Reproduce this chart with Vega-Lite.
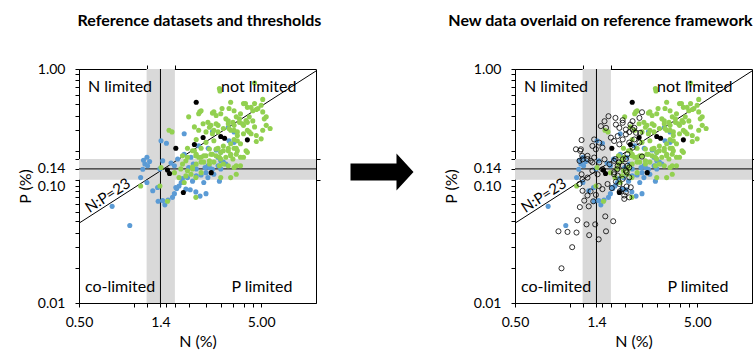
{
"$schema":"https://vega.github.io/schema/vega-lite/v6.json",
"padding":{"left":16,"top":12,"right":0,"bottom":0},
"spacing":0,
"datasets":{
"ref":[
{"N":0.76,"P":0.067,"s":"A"},{"N":0.95,"P":0.046,"s":"A"},{"N":1.09,"P":0.118,"s":"A"},{"N":1.18,"P":0.107,"s":"A"},{"N":1.13,"P":0.166,"s":"A"},{"N":1.18,"P":0.176,"s":"A"},{"N":1.22,"P":0.162,"s":"A"},{"N":1.15,"P":0.154,"s":"A"},{"N":1.19,"P":0.149,"s":"A"},{"N":1.12,"P":0.139,"s":"A"},{"N":1.27,"P":0.091,"s":"A"},{"N":1.36,"P":0.074,"s":"A"},{"N":1.44,"P":0.075,"s":"A"},{"N":1.48,"P":0.069,"s":"A"},{"N":1.54,"P":0.076,"s":"A"},{"N":1.41,"P":0.244,"s":"A"},{"N":1.51,"P":0.232,"s":"A"},{"N":1.44,"P":0.164,"s":"A"},{"N":1.39,"P":0.14,"s":"A"},{"N":1.35,"P":0.097,"s":"A"},{"N":1.6,"P":0.157,"s":"A"},{"N":1.63,"P":0.08,"s":"A"},{"N":1.67,"P":0.086,"s":"A"},{"N":1.72,"P":0.095,"s":"A"},{"N":1.77,"P":0.1,"s":"A"},{"N":1.82,"P":0.107,"s":"A"},{"N":1.85,"P":0.116,"s":"A"},{"N":1.7,"P":0.097,"s":"A"},{"N":1.89,"P":0.28,"s":"A"},{"N":1.93,"P":0.094,"s":"A"},{"N":2.04,"P":0.093,"s":"A"},{"N":2.19,"P":0.089,"s":"A"},{"N":2.31,"P":0.082,"s":"A"},{"N":2.49,"P":0.086,"s":"A"},{"N":2.0,"P":0.144,"s":"A"},{"N":2.12,"P":0.154,"s":"A"},{"N":2.2,"P":0.14,"s":"A"},{"N":2.34,"P":0.124,"s":"A"},{"N":2.46,"P":0.144,"s":"A"},{"N":2.6,"P":0.144,"s":"A"},{"N":2.75,"P":0.126,"s":"A"},{"N":2.95,"P":0.11,"s":"A"},{"N":3.0,"P":0.14,"s":"A"},{"N":3.2,"P":0.154,"s":"A"},{"N":2.27,"P":0.221,"s":"A"},{"N":2.56,"P":0.21,"s":"A"},{"N":2.83,"P":0.203,"s":"A"},{"N":2.9,"P":0.176,"s":"A"},{"N":3.3,"P":0.318,"s":"A"},{"N":3.55,"P":0.29,"s":"A"},{"N":3.33,"P":0.244,"s":"A"},{"N":2.06,"P":0.176,"s":"A"},{"N":1.89,"P":0.187,"s":"A"},{"N":1.74,"P":0.17,"s":"A"},{"N":1.67,"P":0.149,"s":"A"},{"N":1.97,"P":0.118,"s":"A"},{"N":2.1,"P":0.11,"s":"A"},{"N":2.42,"P":0.107,"s":"A"},{"N":2.55,"P":0.149,"s":"A"},{"N":2.7,"P":0.139,"s":"A"},{"N":2.9,"P":0.149,"s":"A"},{"N":3.0,"P":0.164,"s":"A"},{"N":3.1,"P":0.16,"s":"A"},{"N":2.7,"P":0.29,"s":"A"},{"N":3.0,"P":0.194,"s":"A"},{"N":3.55,"P":0.236,"s":"A"},{"N":2.49,"P":0.13,"s":"A"},{"N":2.2,"P":0.122,"s":"A"},{"N":2.55,"P":0.118,"s":"A"},
{"N":2.95,"P":0.68,"s":"B"},{"N":2.97,"P":0.65,"s":"B"},{"N":4.6,"P":0.76,"s":"B"},{"N":5.1,"P":0.55,"s":"B"},{"N":4.1,"P":0.506,"s":"B"},{"N":2.3,"P":0.43,"s":"B"},{"N":2.0,"P":0.39,"s":"B"},{"N":2.27,"P":0.415,"s":"B"},{"N":2.34,"P":0.44,"s":"B"},{"N":2.75,"P":0.43,"s":"B"},{"N":2.83,"P":0.4,"s":"B"},{"N":2.7,"P":0.42,"s":"B"},{"N":3.05,"P":0.46,"s":"B"},{"N":3.4,"P":0.52,"s":"B"},{"N":3.33,"P":0.46,"s":"B"},{"N":3.55,"P":0.44,"s":"B"},{"N":3.85,"P":0.415,"s":"B"},{"N":4.0,"P":0.506,"s":"B"},{"N":4.2,"P":0.47,"s":"B"},{"N":4.5,"P":0.44,"s":"B"},{"N":4.6,"P":0.506,"s":"B"},{"N":4.8,"P":0.46,"s":"B"},{"N":5.0,"P":0.49,"s":"B"},{"N":4.4,"P":0.47,"s":"B"},{"N":4.7,"P":0.45,"s":"B"},{"N":5.1,"P":0.43,"s":"B"},{"N":5.2,"P":0.375,"s":"B"},{"N":5.33,"P":0.39,"s":"B"},{"N":5.33,"P":0.33,"s":"B"},{"N":5.6,"P":0.31,"s":"B"},{"N":3.65,"P":0.39,"s":"B"},{"N":3.8,"P":0.35,"s":"B"},{"N":3.95,"P":0.34,"s":"B"},{"N":4.13,"P":0.363,"s":"B"},{"N":4.2,"P":0.3,"s":"B"},{"N":4.4,"P":0.28,"s":"B"},{"N":4.7,"P":0.27,"s":"B"},{"N":5.0,"P":0.253,"s":"B"},{"N":5.1,"P":0.3,"s":"B"},{"N":4.3,"P":0.39,"s":"B"},{"N":4.5,"P":0.36,"s":"B"},{"N":4.6,"P":0.32,"s":"B"},{"N":4.2,"P":0.35,"s":"B"},{"N":3.8,"P":0.375,"s":"B"},{"N":4.0,"P":0.33,"s":"B"},{"N":3.55,"P":0.33,"s":"B"},{"N":3.4,"P":0.3,"s":"B"},{"N":3.7,"P":0.29,"s":"B"},{"N":3.0,"P":0.415,"s":"B"},{"N":3.2,"P":0.375,"s":"B"},{"N":3.3,"P":0.34,"s":"B"},{"N":3.33,"P":0.31,"s":"B"},{"N":3.5,"P":0.35,"s":"B"},{"N":3.55,"P":0.3,"s":"B"},{"N":3.7,"P":0.27,"s":"B"},{"N":2.55,"P":0.35,"s":"B"},{"N":2.6,"P":0.318,"s":"B"},{"N":2.75,"P":0.3,"s":"B"},{"N":2.9,"P":0.33,"s":"B"},{"N":2.65,"P":0.33,"s":"B"},{"N":2.83,"P":0.34,"s":"B"},{"N":3.1,"P":0.31,"s":"B"},{"N":3.3,"P":0.36,"s":"B"},{"N":2.4,"P":0.34,"s":"B"},{"N":1.56,"P":0.3,"s":"B"},{"N":1.62,"P":0.29,"s":"B"},{"N":4.7,"P":0.24,"s":"B"},{"N":3.85,"P":0.23,"s":"B"},{"N":3.65,"P":0.21,"s":"B"},{"N":2.2,"P":0.25,"s":"B"},{"N":2.34,"P":0.21,"s":"B"},{"N":2.49,"P":0.236,"s":"B"},{"N":2.6,"P":0.207,"s":"B"},{"N":2.75,"P":0.244,"s":"B"},{"N":2.9,"P":0.21,"s":"B"},{"N":3.0,"P":0.194,"s":"B"},{"N":3.1,"P":0.22,"s":"B"},{"N":3.3,"P":0.2,"s":"B"},{"N":3.4,"P":0.23,"s":"B"},{"N":3.55,"P":0.25,"s":"B"},{"N":3.65,"P":0.187,"s":"B"},{"N":3.4,"P":0.181,"s":"B"},{"N":3.2,"P":0.176,"s":"B"},{"N":3.0,"P":0.17,"s":"B"},{"N":2.83,"P":0.181,"s":"B"},{"N":2.65,"P":0.187,"s":"B"},{"N":2.49,"P":0.181,"s":"B"},{"N":2.34,"P":0.176,"s":"B"},{"N":2.19,"P":0.181,"s":"B"},{"N":2.1,"P":0.2,"s":"B"},{"N":2.42,"P":0.16,"s":"B"},{"N":2.6,"P":0.154,"s":"B"},{"N":2.75,"P":0.16,"s":"B"},{"N":2.95,"P":0.149,"s":"B"},{"N":3.1,"P":0.154,"s":"B"},{"N":2.2,"P":0.154,"s":"B"},{"N":2.1,"P":0.145,"s":"B"},{"N":1.97,"P":0.135,"s":"B"},{"N":1.93,"P":0.122,"s":"B"},{"N":2.06,"P":0.126,"s":"B"},{"N":2.19,"P":0.118,"s":"B"},{"N":2.34,"P":0.13,"s":"B"},{"N":3.65,"P":0.149,"s":"B"},{"N":3.4,"P":0.118,"s":"B"},{"N":4.2,"P":0.194,"s":"B"},{"N":4.0,"P":0.176,"s":"B"},{"N":3.7,"P":0.244,"s":"B"},{"N":4.0,"P":0.28,"s":"B"},{"N":4.3,"P":0.29,"s":"B"},{"N":2.9,"P":0.29,"s":"B"},{"N":2.7,"P":0.28,"s":"B"},{"N":2.49,"P":0.29,"s":"B"},{"N":2.15,"P":0.32,"s":"B"},{"N":2.27,"P":0.3,"s":"B"},{"N":1.97,"P":0.21,"s":"B"},{"N":1.85,"P":0.181,"s":"B"},{"N":1.97,"P":0.176,"s":"B"},{"N":1.41,"P":0.144,"s":"B"},{"N":1.09,"P":0.1,"s":"B"},{"N":1.39,"P":0.1,"s":"B"},{"N":1.53,"P":0.074,"s":"B"},{"N":1.85,"P":0.154,"s":"B"},{"N":1.81,"P":0.14,"s":"B"},{"N":1.67,"P":0.13,"s":"B"},{"N":1.77,"P":0.118,"s":"B"},{"N":1.89,"P":0.107,"s":"B"},{"N":3.0,"P":0.118,"s":"B"},{"N":2.15,"P":0.2,"s":"B"},{"N":2.2,"P":0.187,"s":"B"},{"N":2.27,"P":0.176,"s":"B"},{"N":2.34,"P":0.16,"s":"B"},{"N":2.42,"P":0.181,"s":"B"},{"N":2.6,"P":0.164,"s":"B"},{"N":2.7,"P":0.187,"s":"B"},{"N":2.83,"P":0.207,"s":"B"},{"N":2.95,"P":0.176,"s":"B"},{"N":3.1,"P":0.2,"s":"B"},{"N":3.3,"P":0.21,"s":"B"},{"N":3.4,"P":0.187,"s":"B"},{"N":3.55,"P":0.21,"s":"B"},{"N":3.7,"P":0.2,"s":"B"},{"N":3.85,"P":0.176,"s":"B"},{"N":4.13,"P":0.2,"s":"B"},{"N":3.55,"P":0.144,"s":"B"},{"N":3.85,"P":0.149,"s":"B"},{"N":3.3,"P":0.149,"s":"B"},{"N":3.5,"P":0.17,"s":"B"},{"N":3.65,"P":0.126,"s":"B"},{"N":2.19,"P":0.08,"s":"B"},{"N":1.93,"P":0.164,"s":"B"},{"N":2.1,"P":0.14,"s":"B"},
{"N":2.2,"P":0.52,"s":"C"},{"N":2.4,"P":0.26,"s":"C"},{"N":2.15,"P":0.226,"s":"C"},{"N":1.7,"P":0.21,"s":"C"},{"N":3.0,"P":0.265,"s":"C"},{"N":3.15,"P":0.256,"s":"C"},{"N":4.2,"P":0.248,"s":"C"},{"N":2.66,"P":0.13,"s":"C"},{"N":1.87,"P":0.088,"s":"C"},{"N":1.53,"P":0.137,"s":"C"},{"N":1.57,"P":0.128,"s":"C"}
],
"new":[
{"N":0.9,"P":0.0198},{"N":0.866,"P":0.041},{"N":1.03,"P":0.03},{"N":0.971,"P":0.0405},{"N":1.088,"P":0.04},{"N":1.1,"P":0.051},{"N":1.235,"P":0.047},{"N":1.277,"P":0.038},{"N":1.378,"P":0.047},{"N":1.44,"P":0.035},{"N":1.58,"P":0.041},{"N":1.565,"P":0.055},{"N":1.73,"P":0.05},{"N":1.135,"P":0.066},{"N":1.27,"P":0.067},
{"N":1.174,"P":0.091},{"N":1.25,"P":0.083},{"N":1.3,"P":0.09},{"N":1.39,"P":0.084},{"N":1.2,"P":0.075},{"N":1.345,"P":0.074},{"N":1.44,"P":0.1},
{"N":1.51,"P":0.094},{"N":1.61,"P":0.104},{"N":1.7,"P":0.096},{"N":1.79,"P":0.109},{"N":1.88,"P":0.09},{"N":1.99,"P":0.083},{"N":2.05,"P":0.099},
{"N":1.13,"P":0.104},{"N":1.174,"P":0.114},{"N":1.25,"P":0.118},{"N":1.16,"P":0.126},
{"N":1.75,"P":0.126},{"N":1.82,"P":0.139},{"N":1.95,"P":0.149},{"N":2.03,"P":0.135},{"N":2.12,"P":0.144},
{"N":1.13,"P":0.164},{"N":1.17,"P":0.181},{"N":1.25,"P":0.17},{"N":1.33,"P":0.159},
{"N":1.78,"P":0.17},{"N":1.86,"P":0.159},{"N":2.03,"P":0.17},{"N":2.07,"P":0.187},{"N":2.49,"P":0.1785},
{"N":1.63,"P":0.395},{"N":1.55,"P":0.358},{"N":1.48,"P":0.325},{"N":1.58,"P":0.314},
{"N":1.79,"P":0.335},{"N":1.87,"P":0.314},{"N":1.95,"P":0.347},{"N":2.03,"P":0.304},{"N":2.12,"P":0.289},{"N":2.26,"P":0.314},{"N":2.31,"P":0.285},{"N":2.21,"P":0.358},{"N":2.49,"P":0.427},
{"N":1.16,"P":0.247},{"N":1.14,"P":0.2},{"N":1.33,"P":0.22},{"N":1.39,"P":0.206},{"N":1.45,"P":0.235},{"N":1.51,"P":0.213},
{"N":1.68,"P":0.259},{"N":1.75,"P":0.2425},{"N":1.83,"P":0.267},{"N":1.87,"P":0.227},{"N":1.95,"P":0.25},{"N":2.03,"P":0.276},{"N":2.12,"P":0.235},{"N":2.21,"P":0.213},{"N":2.26,"P":0.25},{"N":2.41,"P":0.235},
{"N":1.174,"P":0.169},{"N":1.25,"P":0.181},{"N":1.3,"P":0.164},{"N":1.36,"P":0.175},{"N":1.45,"P":0.159},{"N":1.55,"P":0.169},{"N":1.65,"P":0.1536},{"N":1.75,"P":0.164},{"N":1.83,"P":0.149},{"N":1.95,"P":0.169},{"N":2.07,"P":0.149},
{"N":1.33,"P":0.135},{"N":1.42,"P":0.126},{"N":1.51,"P":0.139},{"N":1.75,"P":0.131},{"N":1.83,"P":0.1226},{"N":1.95,"P":0.115},{"N":2.05,"P":0.131},{"N":2.12,"P":0.1186},
{"N":1.87,"P":0.104},{"N":1.95,"P":0.0944},{"N":2.03,"P":0.0885},{"N":2.12,"P":0.08},{"N":1.99,"P":0.0776},{"N":2.16,"P":0.0975},
{"N":1.78,"P":0.382},{"N":1.95,"P":0.365},{"N":2.15,"P":0.335},{"N":2.41,"P":0.382},{"N":2.21,"P":0.304},{"N":2.43,"P":0.285},{"N":1.08,"P":0.206},{"N":1.15,"P":0.206},{"N":1.36,"P":0.25}
],
"quad":[
{"N":0.84,"P":0.7,"t":"N limited"},{"N":4.85,"P":0.7,"t":"not limited"},{"N":0.84,"P":0.0137,"t":"co-limited"},{"N":5.05,"P":0.0137,"t":"P limited"}
]
},
"hconcat":[
{
"width":237,"height":234,
"title":{"text":"Reference datasets and thresholds","anchor":"middle","offset":33,"dx":2},
"layer":[
{"data":{"values":[{"lo":1.175,"hi":1.68}]},"mark":{"type":"rect","color":"#d9d9d9"},"encoding":{"x":{"field":"lo","type":"quantitative","scale":{"type":"log","domain":[0.5,10],"nice":false},"axis":null},"x2":{"field":"hi"}}},
{"data":{"values":[{"lo":0.113,"hi":0.17}]},"mark":{"type":"rect","color":"#d9d9d9"},"encoding":{"y":{"field":"lo","type":"quantitative","scale":{"type":"log","domain":[0.01,1],"nice":false},"axis":null},"y2":{"field":"hi"}}},
{"data":{"values":[{"N":1.4}]},"mark":{"type":"rule","color":"black","strokeWidth":1},"encoding":{"x":{"field":"N","type":"quantitative","scale":{"type":"log","domain":[0.5,10],"nice":false},"axis":{"orient":"top","values":[1.175,1.68],"labels":false,"domain":false,"title":null,"tickSize":4}}}},
{"data":{"values":[{"P":0.14}]},"mark":{"type":"rule","color":"black","strokeWidth":1},"encoding":{"y":{"field":"P","type":"quantitative","scale":{"type":"log","domain":[0.01,1],"nice":false},"axis":{"orient":"right","values":[0.113,0.17],"labels":false,"domain":false,"title":null,"tickSize":4}}}},
{"data":{"values":[{"N":0.5,"P":0.0481},{"N":10,"P":0.962}]},"mark":{"type":"line","color":"black","strokeWidth":1},"encoding":{"x":{"field":"N","type":"quantitative","scale":{"type":"log","domain":[0.5,10],"nice":false},"axis":null},"y":{"field":"P","type":"quantitative","scale":{"type":"log","domain":[0.01,1],"nice":false},"axis":null}}},
{"data":{"name":"ref"},"mark":{"type":"circle","size":26,"opacity":1},"encoding":{
"x":{"field":"N","type":"quantitative","scale":{"type":"log","domain":[0.5,10],"nice":false},"axis":{"orient":"bottom","title":"N (%)","values":[0.5,1,1.175,1.4,1.5,1.68,2,2.5,3,3.5,4,4.5,5],"labelExpr":"datum.value==0.5?'0.50':datum.value==1.4?'1.4':datum.value==5?'5.00':''","labelPadding":8,"titlePadding":4}},
"y":{"field":"P","type":"quantitative","scale":{"type":"log","domain":[0.01,1],"nice":false},"axis":{"orient":"left","title":"P (%)","values":[0.01,0.02,0.03,0.04,0.05,0.06,0.07,0.08,0.09,0.1,0.113,0.14,0.17,0.2,0.3,0.4,0.5,0.6,0.7,0.8,0.9,1],"labelExpr":"(datum.value==0.01||datum.value==0.1||datum.value==0.14||datum.value==1)?format(datum.value,'.2f'):''","labelPadding":10,"titlePadding":4}},
"color":{"field":"s","type":"nominal","scale":{"domain":["A","B","C"],"range":["#5B9BD5","#92D050","#000000"]},"legend":null}}},
{"data":{"name":"quad"},"mark":{"type":"text","align":"center","baseline":"middle","fontSize":16},"encoding":{"x":{"field":"N","type":"quantitative","scale":{"type":"log","domain":[0.5,10],"nice":false},"axis":null},"y":{"field":"P","type":"quantitative","scale":{"type":"log","domain":[0.01,1],"nice":false},"axis":null},"text":{"field":"t"}}},
{"data":{"values":[{"N":0.72,"P":0.083,"t":"N:P=23"}]},"mark":{"type":"text","align":"center","baseline":"middle","angle":327,"fontSize":15},"encoding":{"x":{"field":"N","type":"quantitative","scale":{"type":"log","domain":[0.5,10],"nice":false},"axis":null},"y":{"field":"P","type":"quantitative","scale":{"type":"log","domain":[0.01,1],"nice":false},"axis":null},"text":{"field":"t"}}}
],
"resolve":{"axis":{"x":"independent","y":"independent"}}
},
{
"width":120,"height":206,"view":{"stroke":null},
"data":{"values":[{"k":1}]},
"mark":{"type":"point","shape":"M-1,-0.27L0.46,-0.27L0.46,-0.59L1,0L0.46,0.59L0.46,0.27L-1,0.27Z","size":3969,"filled":true,"color":"black","opacity":1,"strokeWidth":0},
"encoding":{}
},
{
"width":237,"height":234,
"title":{"text":"New data overlaid on reference framework","anchor":"middle","offset":33,"dx":-33},
"layer":[
{"data":{"values":[{"lo":1.175,"hi":1.68}]},"mark":{"type":"rect","color":"#d9d9d9"},"encoding":{"x":{"field":"lo","type":"quantitative","scale":{"type":"log","domain":[0.5,10],"nice":false},"axis":null},"x2":{"field":"hi"}}},
{"data":{"values":[{"lo":0.113,"hi":0.17}]},"mark":{"type":"rect","color":"#d9d9d9"},"encoding":{"y":{"field":"lo","type":"quantitative","scale":{"type":"log","domain":[0.01,1],"nice":false},"axis":null},"y2":{"field":"hi"}}},
{"data":{"values":[{"N":1.4}]},"mark":{"type":"rule","color":"black","strokeWidth":1},"encoding":{"x":{"field":"N","type":"quantitative","scale":{"type":"log","domain":[0.5,10],"nice":false},"axis":{"orient":"top","values":[1.175,1.68],"labels":false,"domain":false,"title":null,"tickSize":4}}}},
{"data":{"values":[{"P":0.14}]},"mark":{"type":"rule","color":"black","strokeWidth":1},"encoding":{"y":{"field":"P","type":"quantitative","scale":{"type":"log","domain":[0.01,1],"nice":false},"axis":{"orient":"right","values":[0.113,0.17],"labels":false,"domain":false,"title":null,"tickSize":4}}}},
{"data":{"values":[{"N":0.5,"P":0.0481},{"N":10,"P":0.962}]},"mark":{"type":"line","color":"black","strokeWidth":1},"encoding":{"x":{"field":"N","type":"quantitative","scale":{"type":"log","domain":[0.5,10],"nice":false},"axis":null},"y":{"field":"P","type":"quantitative","scale":{"type":"log","domain":[0.01,1],"nice":false},"axis":null}}},
{"data":{"name":"ref"},"mark":{"type":"circle","size":26,"opacity":1},"encoding":{
"x":{"field":"N","type":"quantitative","scale":{"type":"log","domain":[0.5,10],"nice":false},"axis":{"orient":"bottom","title":"N (%)","values":[0.5,1,1.175,1.4,1.5,1.68,2,2.5,3,3.5,4,4.5,5],"labelExpr":"datum.value==0.5?'0.50':datum.value==1.4?'1.4':datum.value==5?'5.00':''","labelPadding":8,"titlePadding":4}},
"y":{"field":"P","type":"quantitative","scale":{"type":"log","domain":[0.01,1],"nice":false},"axis":{"orient":"left","title":"P (%)","values":[0.01,0.02,0.03,0.04,0.05,0.06,0.07,0.08,0.09,0.1,0.113,0.14,0.17,0.2,0.3,0.4,0.5,0.6,0.7,0.8,0.9,1],"labelExpr":"(datum.value==0.01||datum.value==0.1||datum.value==0.14||datum.value==1)?format(datum.value,'.2f'):''","labelPadding":10,"titlePadding":14}},
"color":{"field":"s","type":"nominal","scale":{"domain":["A","B","C"],"range":["#5B9BD5","#92D050","#000000"]},"legend":null}}},
{"data":{"name":"new"},"mark":{"type":"point","shape":"circle","filled":false,"size":26,"color":"black","strokeWidth":0.8,"opacity":1},"encoding":{"x":{"field":"N","type":"quantitative","scale":{"type":"log","domain":[0.5,10],"nice":false},"axis":null},"y":{"field":"P","type":"quantitative","scale":{"type":"log","domain":[0.01,1],"nice":false},"axis":null}}},
{"data":{"name":"quad"},"mark":{"type":"text","align":"center","baseline":"middle","fontSize":16},"encoding":{"x":{"field":"N","type":"quantitative","scale":{"type":"log","domain":[0.5,10],"nice":false},"axis":null},"y":{"field":"P","type":"quantitative","scale":{"type":"log","domain":[0.01,1],"nice":false},"axis":null},"text":{"field":"t"}}},
{"data":{"values":[{"N":0.72,"P":0.083,"t":"N:P=23"}]},"mark":{"type":"text","align":"center","baseline":"middle","angle":327,"fontSize":15},"encoding":{"x":{"field":"N","type":"quantitative","scale":{"type":"log","domain":[0.5,10],"nice":false},"axis":null},"y":{"field":"P","type":"quantitative","scale":{"type":"log","domain":[0.01,1],"nice":false},"axis":null},"text":{"field":"t"}}}
],
"resolve":{"axis":{"x":"independent","y":"independent"}}
}
],
"config":{
"view":{"stroke":"black","strokeWidth":1},
"axis":{"labelFont":"Lato","labelFontSize":14,"labelColor":"black","titleFont":"Lato","titleFontSize":16,"titleFontWeight":"normal","titleColor":"black","domainColor":"black","tickColor":"black","tickSize":4,"grid":false,"labelOverlap":false,"labelFlush":false},
"title":{"font":"Lato","fontSize":16,"fontWeight":"bold","color":"black"},
"text":{"font":"Lato","fontSize":14,"color":"black"}
}
}
